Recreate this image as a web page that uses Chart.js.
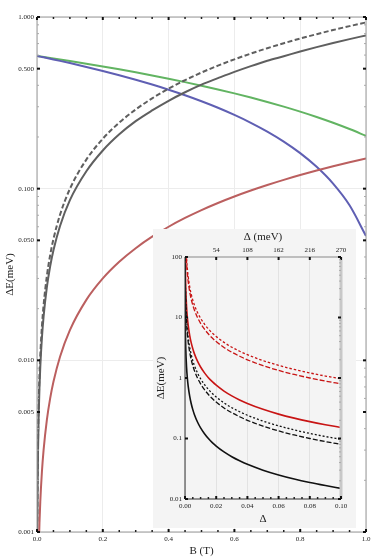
<!DOCTYPE html>
<html><head><meta charset="utf-8">
<script src="https://cdn.jsdelivr.net/npm/chart.js@4.4.0/dist/chart.umd.min.js"></script>
<style>
html,body{margin:0;padding:0;background:#fff;}
#wrap{position:relative;width:382px;height:560px;overflow:hidden;}
#main{position:absolute;left:0;top:0;}
#insetBox{position:absolute;left:153px;top:229px;width:203px;height:299px;background:#f4f4f4;}
#inset{position:absolute;left:0;top:0;}
</style></head><body>
<div id="wrap">
<canvas id="main" width="382" height="560"></canvas>
<div id="insetBox"><canvas id="inset" width="203" height="299"></canvas></div>
</div>
<script>
// ---------- main chart data ----------
const B = [0, 0.001, 0.002, 0.003, 0.005, 0.0075, 0.01, 0.015, 0.02, 0.03, 0.04, 0.05, 0.07, 0.1, 0.15, 0.2, 0.25, 0.3, 0.35, 0.4, 0.45, 0.5, 0.55, 0.6, 0.65, 0.7, 0.75, 0.8, 0.85, 0.9, 0.95, 1.0];
const greenE = [0.593, 0.5926, 0.5922, 0.5918, 0.5911, 0.5901, 0.5891, 0.5872, 0.5852, 0.5813, 0.5774, 0.5735, 0.5657, 0.554, 0.5345, 0.515, 0.4955, 0.476, 0.4565, 0.437, 0.4175, 0.398, 0.3785, 0.359, 0.3395, 0.320, 0.3005, 0.281, 0.2615, 0.242, 0.2225, 0.203];
const blueE = [0.593, 0.5925, 0.5919, 0.5914, 0.5903, 0.589, 0.5876, 0.5849, 0.5822, 0.5768, 0.5714, 0.566, 0.5552, 0.539, 0.512, 0.485, 0.458, 0.431, 0.404, 0.377, 0.35, 0.323, 0.296, 0.269, 0.242, 0.215, 0.188, 0.161, 0.134, 0.107, 0.080, 0.053];
const redE = [null, 0.00015, 0.0003, 0.00045, 0.00075, 0.00113, 0.0015, 0.00225, 0.003, 0.0045, 0.006, 0.0075, 0.0105, 0.015, 0.0225, 0.03, 0.0375, 0.045, 0.0525, 0.06, 0.0675, 0.075, 0.0825, 0.09, 0.0975, 0.105, 0.1125, 0.12, 0.1275, 0.135, 0.1425, 0.15];
const graySolidE = [null, 0.00099, 0.00193, 0.00286, 0.00469, 0.00695, 0.00918, 0.01359, 0.01797, 0.02666, 0.03526, 0.04377, 0.06063, 0.08574, 0.1263, 0.1669, 0.2073, 0.2473, 0.2855, 0.325, 0.3644, 0.4036, 0.4401, 0.4788, 0.5174, 0.556, 0.5909, 0.6292, 0.6673, 0.7053, 0.7432, 0.7812];
const grayDashedE = [null, 0.00115, 0.00224, 0.00332, 0.00545, 0.00808, 0.01068, 0.0158, 0.0209, 0.031, 0.041, 0.0509, 0.0705, 0.0997, 0.1477, 0.1952, 0.2424, 0.2892, 0.3359, 0.3824, 0.4287, 0.4748, 0.5208, 0.5666, 0.6123, 0.658, 0.7035, 0.749, 0.7944, 0.8396, 0.8848, 0.93];

const mainXTicks = [0, 0.2, 0.4, 0.6, 0.8, 1.0];
const mainXTickLabels = ['0.0', '0.2', '0.4', '0.6', '0.8', '1.0'];
const mainYTicks = [0.001, 0.005, 0.01, 0.05, 0.1, 0.5, 1];
const mainYTickLabels = ['0.001', '0.005', '0.010', '0.050', '0.100', '0.500', '1.000'];

// ---------- inset data ----------
const D = [0.00002, 0.0001, 0.0002, 0.0005, 0.001, 0.0015, 0.002, 0.003, 0.004, 0.005, 0.006, 0.008, 0.01, 0.0125, 0.015, 0.0175, 0.02, 0.025, 0.03, 0.035, 0.04, 0.05, 0.06, 0.07, 0.08, 0.09, 0.1];
const redDotted = [4850, 970, 485, 194, 97, 64.7, 48.5, 32.3, 24.25, 19.4, 16.17, 12.13, 9.7, 7.76, 6.47, 5.54, 4.85, 3.88, 3.23, 2.77, 2.425, 1.94, 1.617, 1.386, 1.213, 1.078, 0.97];
const redDashed = [4000, 800, 400, 160, 80, 53.3, 40, 26.7, 20, 16, 13.33, 10, 8, 6.4, 5.33, 4.57, 4, 3.2, 2.67, 2.29, 2, 1.6, 1.333, 1.143, 1, 0.889, 0.8];
const redSolid = [760, 152, 76, 30.4, 15.2, 10.13, 7.6, 5.07, 3.8, 3.04, 2.53, 1.9, 1.52, 1.216, 1.013, 0.869, 0.76, 0.608, 0.507, 0.434, 0.38, 0.304, 0.253, 0.217, 0.19, 0.169, 0.152];
const blackDotted = [485, 97, 48.5, 19.4, 9.7, 6.47, 4.85, 3.23, 2.425, 1.94, 1.617, 1.213, 0.97, 0.776, 0.647, 0.554, 0.485, 0.388, 0.323, 0.277, 0.2425, 0.194, 0.1617, 0.1386, 0.1213, 0.1078, 0.097];
const blackDashed = [400, 80, 40, 16, 8, 5.33, 4, 2.67, 2, 1.6, 1.333, 1, 0.8, 0.64, 0.533, 0.457, 0.4, 0.32, 0.267, 0.229, 0.2, 0.16, 0.1333, 0.1143, 0.1, 0.0889, 0.08];
const blackSolid = [75, 15, 7.5, 3, 1.5, 1, 0.75, 0.5, 0.375, 0.3, 0.25, 0.1875, 0.15, 0.12, 0.1, 0.0857, 0.075, 0.06, 0.05, 0.0429, 0.0375, 0.03, 0.025, 0.0214, 0.01875, 0.0167, 0.015];

const insetXTicks = [0, 0.02, 0.04, 0.06, 0.08, 0.1];
const insetXTickLabels = ['0.00', '0.02', '0.04', '0.06', '0.08', '0.10'];
const insetTopTicks = [0.02, 0.04, 0.06, 0.08, 0.1];
const insetTopTickLabels = ['54', '108', '162', '216', '270'];
const insetYTicks = [0.01, 0.1, 1, 10, 100];
const insetYTickLabels = ['0.01', '0.1', '1', '10', '100'];

// ---------- helpers ----------
const FONT = "'Liberation Serif', 'DejaVu Serif', serif";
const pts = (xs, ys) => xs.map((x, i) => ({x: x, y: ys[i]}));
const range = (a, b, s) => { const r = []; for (let v = a; v <= b + 1e-9; v += s) r.push(+v.toFixed(6)); return r; };
const logMinor = (lo, hi) => { const r = []; for (let e = lo; e < hi; e++) for (let m = 2; m <= 9; m++) r.push(m * Math.pow(10, e)); return r; };
const isDecade = v => Math.abs(Math.log10(v) - Math.round(Math.log10(v))) < 1e-6;

const frameTicks = {
  id: 'frameTicks',
  afterDatasetsDraw(chart, args, opts) {
    const ctx = chart.ctx, a = chart.chartArea;
    ctx.save();
    const e = opts.edges || {};
    const line = (x1, y1, x2, y2, st) => { ctx.strokeStyle = st.color; ctx.lineWidth = st.width; ctx.beginPath(); ctx.moveTo(x1, y1); ctx.lineTo(x2, y2); ctx.stroke(); };
    if (e.top) line(a.left, a.top, a.right, a.top, e.top);
    if (e.bottom) line(a.left, a.bottom, a.right, a.bottom, e.bottom);
    if (e.left) line(a.left, a.top, a.left, a.bottom, e.left);
    if (e.right) line(a.right, a.top, a.right, a.bottom, e.right);
    (opts.marks || []).forEach(m => {
      const sc = chart.scales[m.scale];
      ctx.strokeStyle = m.color; ctx.lineWidth = m.width;
      m.values.forEach(v => {
        const p = sc.getPixelForValue(v);
        m.sides.forEach(side => {
          ctx.beginPath();
          if (side === 'bottom') { ctx.moveTo(p, a.bottom); ctx.lineTo(p, a.bottom - m.len); }
          if (side === 'top') { ctx.moveTo(p, a.top); ctx.lineTo(p, a.top + m.len); }
          if (side === 'left') { ctx.moveTo(a.left, p); ctx.lineTo(a.left + m.len, p); }
          if (side === 'right') { ctx.moveTo(a.right, p); ctx.lineTo(a.right - m.len, p); }
          ctx.stroke();
        });
      });
    });
    ctx.restore();
  }
};

// ---------- main chart ----------
new Chart(document.getElementById('main'), {
  type: 'line',
  data: { datasets: [
    { data: pts(B, redE), borderColor: '#bb5f5f', borderWidth: 2 },
    { data: pts(B, graySolidE), borderColor: '#5f5f5f', borderWidth: 2 },
    { data: pts(B, grayDashedE), borderColor: '#5f5f5f', borderWidth: 2, borderDash: [5, 2.5] },
    { data: pts(B, blueE), borderColor: '#5f5fb3', borderWidth: 2 },
    { data: pts(B, greenE), borderColor: '#62b462', borderWidth: 2 }
  ]},
  options: {
    responsive: false, animation: false,
    elements: { point: { radius: 0 }, line: { cubicInterpolationMode: 'monotone', fill: false } },
    layout: { padding: { top: 17, right: 16, left: 0, bottom: 0 } },
    plugins: {
      legend: { display: false }, tooltip: { enabled: false },
      frameTicks: {
        edges: { top: {color:'#999', width:1}, bottom: {color:'#999', width:1}, left: {color:'#999', width:1}, right: {color:'#999', width:1} },
        marks: [
          { scale: 'x', values: mainXTicks, sides: ['bottom', 'top'], len: 3, width: 2, color: '#111' },
          { scale: 'x', values: range(0.05, 0.95, 0.05).filter(v => Math.abs(v * 5 - Math.round(v * 5)) > 1e-6), sides: ['bottom', 'top'], len: 2, width: 1.5, color: '#222' },
          { scale: 'y', values: mainYTicks, sides: ['left', 'right'], len: 3, width: 2, color: '#111' },
          { scale: 'y', values: logMinor(-3, 0).filter(v => Math.abs(v / Math.pow(10, Math.floor(Math.log10(v) + 1e-9)) - 5) > 1e-6), sides: ['left', 'right'], len: 2, width: 1, color: '#aaa' }
        ]
      }
    },
    scales: {
      x: {
        type: 'linear', min: 0, max: 1,
        afterBuildTicks: s => { s.ticks = mainXTicks.map(v => ({ value: v })); },
        afterFit: s => { s.height = 28; },
        ticks: { callback: (v, i) => mainXTickLabels[i], font: { family: FONT, size: 7 }, color: '#222', padding: 3, maxRotation: 0, autoSkip: false },
        grid: { color: '#ececec', drawTicks: false }, border: { display: false },
        title: { display: true, text: 'B (T)', font: { family: FONT, size: 11 }, color: '#222', padding: { top: 0, bottom: 2 } }
      },
      y: {
        type: 'logarithmic', min: 0.001, max: 1,
        afterBuildTicks: s => { s.ticks = mainYTicks.map(v => ({ value: v })); },
        afterFit: s => { s.width = 37; },
        ticks: { callback: (v, i) => mainYTickLabels[i], font: { family: FONT, size: 7 }, color: '#222', padding: 3, autoSkip: false },
        grid: { color: c => (c.tick && isDecade(c.tick.value)) ? '#ececec' : 'rgba(0,0,0,0)', drawTicks: false }, border: { display: false },
        title: { display: true, text: 'ΔE(meV)', font: { family: FONT, size: 11 }, color: '#222', padding: { top: 4, bottom: 0 } }
      }
    }
  },
  plugins: [frameTicks]
});

// ---------- inset chart ----------
new Chart(document.getElementById('inset'), {
  type: 'line',
  data: { datasets: [
    { data: pts(D, blackSolid), borderColor: '#111', borderWidth: 1.6 },
    { data: pts(D, blackDashed), borderColor: '#111', borderWidth: 1.3, borderDash: [5, 2] },
    { data: pts(D, blackDotted), borderColor: '#111', borderWidth: 1.3, borderDash: [2, 2] },
    { data: pts(D, redSolid), borderColor: '#c81414', borderWidth: 1.6 },
    { data: pts(D, redDashed), borderColor: '#c81414', borderWidth: 1.3, borderDash: [5, 2] },
    { data: pts(D, redDotted), borderColor: '#c81414', borderWidth: 1.3, borderDash: [2.5, 2] }
  ]},
  options: {
    responsive: false, animation: false,
    elements: { point: { radius: 0 }, line: { cubicInterpolationMode: 'monotone', fill: false } },
    layout: { padding: { top: 0, right: 15, left: 0, bottom: 0 } },
    plugins: {
      legend: { display: false }, tooltip: { enabled: false },
      frameTicks: {
        edges: { top: {color:'#888', width:1}, bottom: {color:'#333', width:1}, left: {color:'#333', width:1}, right: {color:'#c8c8c8', width:3} },
        marks: [
          { scale: 'x', values: insetXTicks, sides: ['bottom'], len: 3, width: 2, color: '#111' },
          { scale: 'x', values: range(0.005, 0.095, 0.005).filter(v => Math.abs(v * 50 - Math.round(v * 50)) > 1e-6), sides: ['bottom'], len: 2, width: 1.5, color: '#222' },
          { scale: 'x2', values: insetTopTicks, sides: ['top'], len: 3, width: 2, color: '#111' },
          { scale: 'y', values: insetYTicks, sides: ['left', 'right'], len: 3, width: 2, color: '#111' },
          { scale: 'y', values: logMinor(-2, 2), sides: ['right'], len: 2, width: 1, color: '#aaa' }
        ]
      }
    },
    scales: {
      x: {
        type: 'linear', position: 'bottom', min: 0, max: 0.1,
        afterBuildTicks: s => { s.ticks = insetXTicks.map(v => ({ value: v })); },
        afterFit: s => { s.height = 29; },
        ticks: { callback: (v, i) => insetXTickLabels[i], font: { family: FONT, size: 7 }, color: '#222', padding: 3, maxRotation: 0, autoSkip: false },
        grid: { color: '#e2e2e2', drawTicks: false }, border: { display: false },
        title: { display: true, text: 'Δ', font: { family: FONT, size: 11 }, color: '#222', padding: { top: 0, bottom: 2 } }
      },
      x2: {
        type: 'linear', position: 'top', min: 0, max: 0.1,
        afterBuildTicks: s => { s.ticks = insetTopTicks.map(v => ({ value: v })); },
        afterFit: s => { s.height = 28; },
        ticks: { callback: (v, i) => insetTopTickLabels[i], font: { family: FONT, size: 7 }, color: '#222', padding: 3, maxRotation: 0, autoSkip: false },
        grid: { display: false, drawTicks: false }, border: { display: false },
        title: { display: true, text: 'Δ (meV)', font: { family: FONT, size: 11 }, color: '#222', padding: { top: 2, bottom: 0 } }
      },
      y: {
        type: 'logarithmic', min: 0.01, max: 100,
        afterBuildTicks: s => { s.ticks = insetYTicks.map(v => ({ value: v })); },
        afterFit: s => { s.width = 32; },
        ticks: { callback: (v, i) => insetYTickLabels[i], font: { family: FONT, size: 7 }, color: '#222', padding: 3, autoSkip: false },
        grid: { display: false, drawTicks: false }, border: { display: false },
        title: { display: true, text: 'ΔE(meV)', font: { family: FONT, size: 11 }, color: '#222', padding: { top: 2, bottom: 0 } }
      }
    }
  },
  plugins: [frameTicks]
});
</script>
</body></html>
